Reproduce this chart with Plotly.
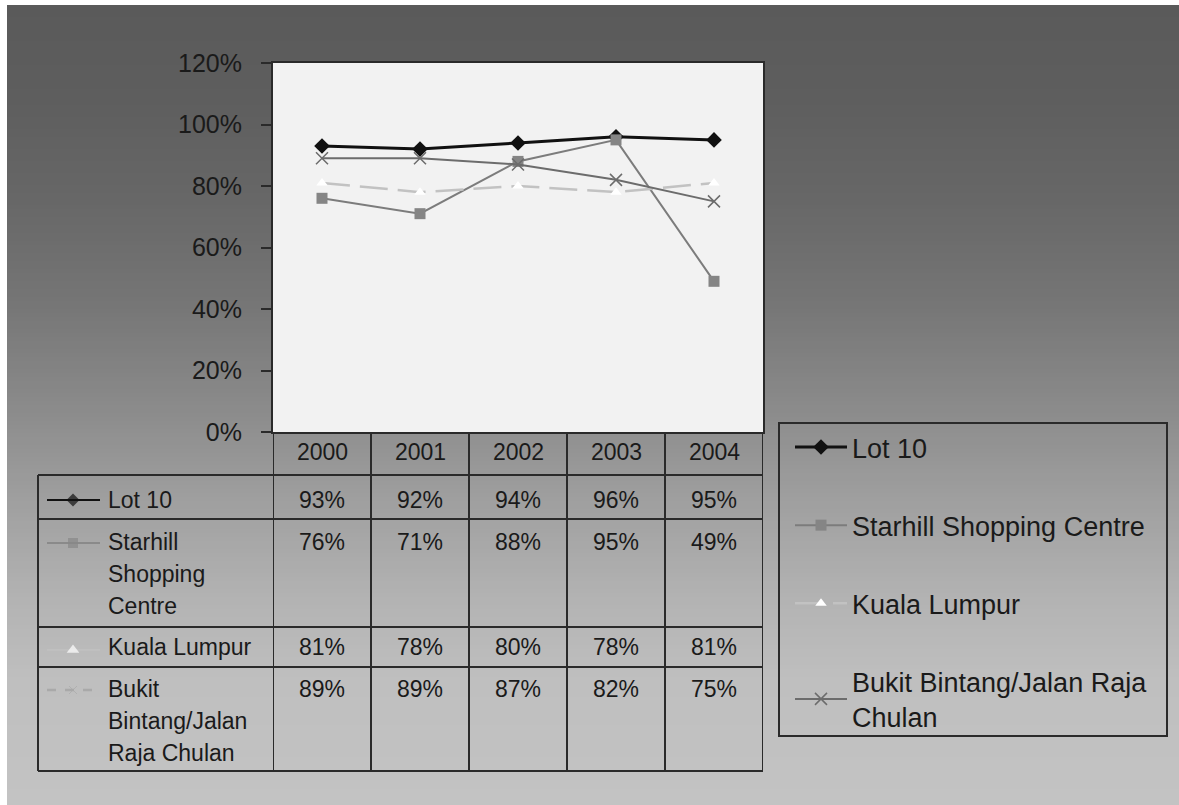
import plotly.graph_objects as go
import numpy as np

# ---------------- data ----------------
years = ["2000", "2001", "2002", "2003", "2004"]
series_names = ["Lot 10", "Starhill Shopping Centre", "Kuala Lumpur",
                "Bukit Bintang/Jalan Raja Chulan"]
lot10 = [0.93, 0.92, 0.94, 0.96, 0.95]
starhill = [0.76, 0.71, 0.88, 0.95, 0.49]
kuala_lumpur = [0.81, 0.78, 0.80, 0.78, 0.81]
bukit_bintang = [0.89, 0.89, 0.87, 0.82, 0.75]
legend_names = ["Lot 10", "Starhill Shopping Centre", "Kuala Lumpur",
                "Bukit Bintang/Jalan Raja<br>Chulan"]
table_labels = [["Lot 10"], ["Starhill", "Shopping", "Centre"], ["Kuala Lumpur"],
                ["Bukit", "Bintang/Jalan", "Raja Chulan"]]
y_ticks = [0, 0.2, 0.4, 0.6, 0.8, 1.0, 1.2]

values = [lot10, starhill, kuala_lumpur, bukit_bintang]

# ---------------- layout geometry (pixels) ----------------
W, H = 1179, 805
def fx(p):
    return p / W
def fy(p):
    return 1 - p / H

PL, PR, PT, PB = 273, 763, 63, 432
row_bounds = [475, 519, 627, 667, 771]
row_text_y = [500, 542, 647, 689]
TAB_L = 38
LINE_SP = 32
FONT = "Liberation Sans, Arial, sans-serif"
TXT = "#1a1a1a"
GRID = "#2a2a2a"

styles = [
    dict(line=dict(color="#111111", width=3),
         marker=dict(symbol="diamond", size=12, color="#111111")),
    dict(line=dict(color="#7c7c7c", width=2),
         marker=dict(symbol="square", size=11, color="#858585")),
    dict(line=dict(color="#c2c2c2", width=2.5, dash="28px,10px"),
         marker=dict(symbol="triangle-up", size=10, color="#ffffff")),
    dict(line=dict(color="#6c6c6c", width=2),
         marker=dict(symbol="x-thin-open", size=12,
                     line=dict(color="#cfcfcf", width=1.5))),
]

fig = go.Figure()
for i, (name, vals) in enumerate(zip(legend_names, values)):
    fig.add_trace(go.Scatter(
        x=list(range(len(years))), y=vals, name=name, mode="lines+markers",
        legendgroup=f"g{i}", xaxis="x", yaxis="y", cliponaxis=False,
        **styles[i]))

# legend keys in the data table (pixel-space overlay axes)
key_styles = [
    dict(line=dict(color="#111111", width=2),
         marker=dict(symbol="diamond", size=[0, 10, 0], color="#111111",
                     line=dict(width=0))),
    dict(line=dict(color="#8a8a8a", width=2),
         marker=dict(symbol="square", size=[0, 10, 0], color="#888888",
                     line=dict(width=0))),
    dict(line=dict(color="#c4c4c4", width=1),
         marker=dict(symbol="triangle-up", size=[0, 11, 0], color="#ffffff",
                     line=dict(width=0))),
    dict(line=dict(color="#a9a9a9", width=2.5, dash="dash"),
         marker=dict(symbol="x-thin-open", size=[0, 8, 0],
                     line=dict(color="#d2d2d2", width=1))),
]
key_y = [500, 543, 650, 690]
for i in range(4):
    fig.add_trace(go.Scatter(
        x=[47, 73, 100], y=[key_y[i]] * 3, mode="lines+markers",
        showlegend=False, hoverinfo="skip", xaxis="x2", yaxis="y2",
        **key_styles[i]))

shapes = []
# gradient background
stops_y = [5, 100, 200, 300, 400, 500, 600, 680, 805]
stops_g = [0x5a, 0x5e, 0x67, 0x75, 0x89, 0x9f, 0xb3, 0xbf, 0xc3]
step = 4
for y0 in range(5, H, step):
    g = int(round(np.interp(y0 + step / 2, stops_y, stops_g)))
    c = f"rgb({g},{g},{g})"
    shapes.append(dict(type="rect", xref="paper", yref="paper",
                       x0=fx(7), x1=1, y0=fy(y0), y1=fy(min(y0 + step + 2, H)),
                       fillcolor=c, line=dict(width=0), layer="below"))
# plot area fill
shapes.append(dict(type="rect", xref="x domain", yref="y domain", x0=0, x1=1,
                   y0=0, y1=1, fillcolor="#f2f2f2", line=dict(width=0),
                   layer="below"))
# table horizontal lines
for yb in row_bounds:
    shapes.append(dict(type="line", xref="paper", yref="paper",
                       x0=fx(TAB_L), x1=fx(PR), y0=fy(yb), y1=fy(yb),
                       line=dict(color=GRID, width=2)))
# table vertical lines
shapes.append(dict(type="line", xref="paper", yref="paper",
                   x0=fx(TAB_L), x1=fx(TAB_L), y0=fy(row_bounds[0]),
                   y1=fy(row_bounds[-1]), line=dict(color=GRID, width=2)))
for k in range(len(years) + 1):
    shapes.append(dict(type="line", xref="x", yref="paper",
                       x0=k - 0.5, x1=k - 0.5, y0=fy(PB), y1=fy(row_bounds[-1]),
                       line=dict(color=GRID, width=2)))
# legend box
shapes.append(dict(type="rect", xref="paper", yref="paper",
                   x0=fx(779), x1=fx(1167), y0=fy(423), y1=fy(736),
                   line=dict(color=GRID, width=2), fillcolor="rgba(0,0,0,0)"))

annotations = []
# header years
for k, yr in enumerate(years):
    annotations.append(dict(x=k, y=fy(452), xref="x", yref="paper", text=yr,
                            yanchor="middle", showarrow=False,
                            font=dict(size=23, color=TXT, family=FONT)))
# values
for r, vals in enumerate(values):
    for k, v in enumerate(vals):
        annotations.append(dict(x=k, y=fy(row_text_y[r]), xref="x", yref="paper",
                                text=f"{round(v * 100)}%", showarrow=False,
                                yanchor="middle",
                                font=dict(size=23, color=TXT, family=FONT)))
    for j, line in enumerate(table_labels[r]):
        annotations.append(dict(x=fx(106), y=fy(row_text_y[r] + j * LINE_SP),
                                xref="paper", yref="paper", text=line,
                                xanchor="left", yanchor="middle", showarrow=False,
                                font=dict(size=23, color=TXT, family=FONT)))

fig.update_layout(
    width=W, height=H, margin=dict(l=0, r=0, t=0, b=0, autoexpand=False),
    paper_bgcolor="white", plot_bgcolor="rgba(0,0,0,0)",
    showlegend=True,
    xaxis=dict(domain=[fx(PL), fx(PR)], range=[-0.5, len(years) - 0.5],
               showticklabels=False, ticks="", showgrid=False, zeroline=False,
               showline=True, mirror=True, linecolor=GRID, linewidth=2,
               fixedrange=True, automargin=False),
    yaxis=dict(domain=[fy(PB), fy(PT)], range=[0, 1.2], tickvals=y_ticks,
               tickformat=".0%", ticks="outside", ticklen=10, tickwidth=2,
               tickcolor=GRID, showgrid=False, zeroline=False, showline=True,
               mirror=True, linecolor=GRID, linewidth=2, ticklabelstandoff=14,
               automargin=False,
               tickfont=dict(size=25, color=TXT, family=FONT)),
    xaxis2=dict(domain=[0, 1], range=[0, W], visible=False, anchor="y2",
                automargin=False),
    yaxis2=dict(domain=[0, 1], range=[H, 0], visible=False, anchor="x2",
                automargin=False),
    legend=dict(x=fx(790), xanchor="left", y=fy(423), yanchor="top",
                bgcolor="rgba(0,0,0,0)", borderwidth=0, itemwidth=52,
                tracegroupgap=40, traceorder="grouped",
                font=dict(size=27, color=TXT, family=FONT)),
    shapes=shapes, annotations=annotations,
)

fig.write_html("out.html")
